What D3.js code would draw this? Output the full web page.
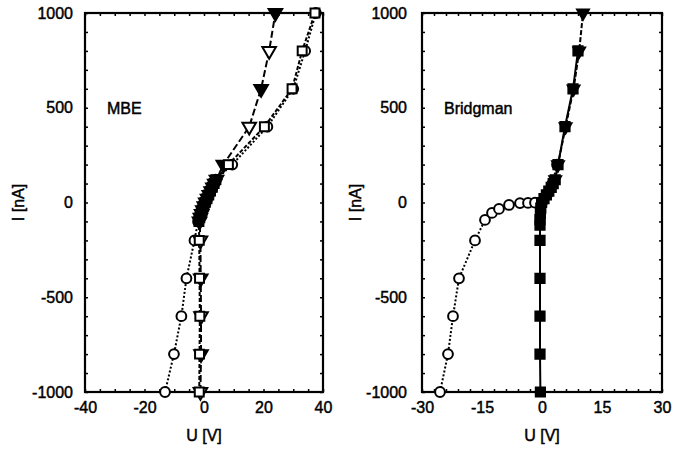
<!DOCTYPE html>
<html>
<head>
<meta charset="utf-8">
<script src="https://cdn.jsdelivr.net/npm/d3@7"></script>
<style>
  body { margin: 0; background: #fff; }
  svg { font-family: "Liberation Sans", Arial, sans-serif; }
</style>
</head>
<body>
<div id="chart"></div>
<script>
// axis ticks
const iTicks = [1000, 500, 0, -500, -1000];
const mbeUTicks = [-40, -20, 0, 20, 40];
const brUTicks = [-30, -15, 0, 15, 30];

// MBE sample
const mbeTriI = [-1000, -800, -600, -400, -200, -100, -80, -60, -40, -20, 0, 20, 40, 60, 80, 100, 120, 200, 400, 600, 800, 1000];
const mbeTriU = [-1.2, -1.0, -1.0, -1.1, -1.2, -1.5, -1.2, -0.8, -0.4, 0.1, 0.6, 1.2, 1.8, 2.4, 3.0, 3.6, 4.2, 6.5, 15.2, 19.2, 21.9, 24.0];
const mbeSqI = [-1000, -800, -600, -400, -200, -100, -80, -60, -40, -20, 0, 20, 40, 60, 80, 100, 120, 200, 400, 600, 800, 1000];
const mbeSqU = [-1.6, -1.5, -1.4, -1.5, -1.6, -1.7, -1.4, -1.0, -0.6, -0.1, 0.4, 1.0, 1.6, 2.2, 2.8, 3.4, 4.0, 8.2, 20.3, 29.6, 33.0, 37.3];
const mbeCircI = [-1000, -800, -600, -400, -200, -100, -80, -60, -40, -20, 0, 20, 40, 60, 80, 100, 120, 200, 400, 600, 800, 1000];
const mbeCircU = [-13.1, -10.1, -7.6, -5.9, -3.2, -2.0, -1.6, -1.2, -0.7, -0.2, 0.3, 0.9, 1.5, 2.1, 2.7, 3.3, 3.9, 9.5, 21.3, 30.0, 34.0, 37.6];

// Bridgman sample
const brSqI = [-1000, -800, -600, -400, -200, -120, -90, -60, -30, 0, 20, 40, 60, 80, 100, 120, 200, 400, 600, 800];
const brSqU = [-0.4, -0.5, -0.5, -0.5, -0.5, -0.5, -0.5, -0.4, -0.3, -0.1, 0.5, 1.1, 1.7, 2.3, 2.8, 3.3, 4.0, 5.75, 7.75, 9.0];
const brTriI = [120, 200, 400, 600, 800, 1000];
const brTriU = [3.3, 4.0, 5.9, 7.9, 9.3, 10.25];
const brCircI = [-1000, -800, -600, -400, -200, -92, -55, -34, -13, -3, -2, -1, 0, 50, 100, 200];
const brCircU = [-25.5, -23.5, -22.25, -20.75, -16.75, -14.25, -12.5, -10.75, -8.25, -5.5, -3.5, -1.75, 0.0, 1.5, 2.6, 3.75];

const width = 673, height = 454;
const plotTop = 13, plotBottom = 392;

const svg = d3.select("#chart")
    .append("svg")
    .attr("width", width)
    .attr("height", height);

function zip(us, is) {
    return us.map((u, k) => ({ u: u, i: is[k] }));
}

const panels = [
    {
        left: 85, right: 323, label: "MBE", uDomain: [-40, 40], uTicks: mbeUTicks, minorStep: 5,
        labelPad: 12, titleX: 24,
        series: [
            { data: zip(mbeCircU, mbeCircI), shape: "circle", dash: "2,2", fill: "#fff", size: 75 },
            { data: zip(mbeTriU, mbeTriI), shape: "triangle", dash: "7,3", fill: "alt", size: 80 },
            { data: zip(mbeSqU, mbeSqI), shape: "square", dash: "4,2", fill: "#fff", size: 80 }
        ]
    },
    {
        left: 422, right: 662, label: "Bridgman", uDomain: [-30, 30], uTicks: brUTicks, minorStep: 3,
        labelPad: 15, titleX: 361,
        series: [
            { data: zip(brCircU, brCircI), shape: "circle", dash: "2,2", fill: "#fff", size: 75 },
            { data: zip(brTriU, brTriI), shape: "triangle", dash: "5,2", fill: "#000", size: 60 },
            { data: zip(brSqU, brSqI), shape: "square", dash: null, fill: "#000", size: 85 }
        ]
    }
];

function inkText(sel) {
    sel.attr("font-size", 16)
        .attr("font-family", "Liberation Sans, Arial, sans-serif")
        .attr("fill", "#000")
        .attr("stroke", "#000")
        .attr("stroke-width", 0.45);
}

panels.forEach(p => {
    const x = d3.scaleLinear().domain(p.uDomain).range([p.left, p.right]);
    const y = d3.scaleLinear().domain([-1000, 1000]).range([plotBottom, plotTop]);
    const g = svg.append("g");

    // minor ticks, inward, on all four sides
    const minorU = d3.range(p.uDomain[0], p.uDomain[1] + 0.01, p.minorStep);
    const minorI = d3.range(-1000, 1001, 100);
    [["axisBottom", plotBottom], ["axisTop", plotTop]].forEach(([fn, pos]) => {
        g.append("g")
            .attr("transform", `translate(0,${pos})`)
            .call(d3[fn](x).tickValues(minorU).tickSize(-3).tickFormat(""))
            .call(a => a.select(".domain").remove())
            .selectAll("line").attr("stroke", "#000").attr("stroke-width", 1.5);
    });
    [["axisLeft", p.left], ["axisRight", p.right]].forEach(([fn, pos]) => {
        g.append("g")
            .attr("transform", `translate(${pos},0)`)
            .call(d3[fn](y).tickValues(minorI).tickSize(-3).tickFormat(""))
            .call(a => a.select(".domain").remove())
            .selectAll("line").attr("stroke", "#000").attr("stroke-width", 1.5);
    });

    // tick labels
    g.append("g")
        .attr("transform", `translate(${p.left},0)`)
        .call(d3.axisLeft(y).tickValues(iTicks).tickSize(0).tickPadding(p.labelPad).tickFormat(d => String(d)))
        .call(a => a.select(".domain").remove())
        .selectAll("text")
        .call(inkText);

    g.append("g")
        .attr("transform", `translate(0,${plotBottom})`)
        .call(d3.axisBottom(x).tickValues(p.uTicks).tickSize(0).tickPadding(10).tickFormat(d => String(d)))
        .call(a => a.select(".domain").remove())
        .selectAll("text")
        .call(inkText);

    // frame
    g.append("rect")
        .attr("x", p.left)
        .attr("y", plotTop)
        .attr("width", p.right - p.left)
        .attr("height", plotBottom - plotTop)
        .attr("fill", "none")
        .attr("stroke", "#000")
        .attr("stroke-width", 2.2);

    // axis titles
    g.append("text")
        .attr("x", (p.left + p.right) / 2)
        .attr("y", 441)
        .attr("text-anchor", "middle")
        .call(inkText)
        .text("U [V]");

    g.append("text")
        .attr("transform", `translate(${p.titleX},${(plotTop + plotBottom) / 2}) rotate(-90)`)
        .attr("text-anchor", "middle")
        .call(inkText)
        .text("I [nA]");

    g.append("text")
        .attr("x", p.left + 22)
        .attr("y", 114)
        .call(inkText)
        .text(p.label);

    // series
    const line = d3.line().x(d => x(d.u)).y(d => y(d.i));
    const plot = g.append("g");

    p.series.forEach(s => {
        plot.append("path")
            .datum(s.data)
            .attr("d", line)
            .attr("fill", "none")
            .attr("stroke", "#000")
            .attr("stroke-width", 2)
            .attr("stroke-dasharray", s.dash);

        const sym = s.shape === "circle" ? d3.symbolCircle
            : s.shape === "square" ? d3.symbolSquare : d3.symbolTriangle;

        // densely packed low-current points merge into solid ink in the print
        const fillOf = (d, k) => {
            if (Math.abs(d.i) <= 120 && s.shape !== "circle") return "#000";
            if (s.fill === "alt") return k % 2 === 1 ? "#000" : "#fff";
            return s.fill;
        };

        plot.append("g")
            .selectAll("path")
            .data(s.data)
            .join("path")
            .attr("transform", d => `translate(${x(d.u)},${y(d.i)})` + (s.shape === "triangle" ? " rotate(180)" : ""))
            .attr("d", d3.symbol().type(sym).size(s.size))
            .attr("fill", fillOf)
            .attr("stroke", "#000")
            .attr("stroke-width", 2);
    });
});
</script>
</body>
</html>
